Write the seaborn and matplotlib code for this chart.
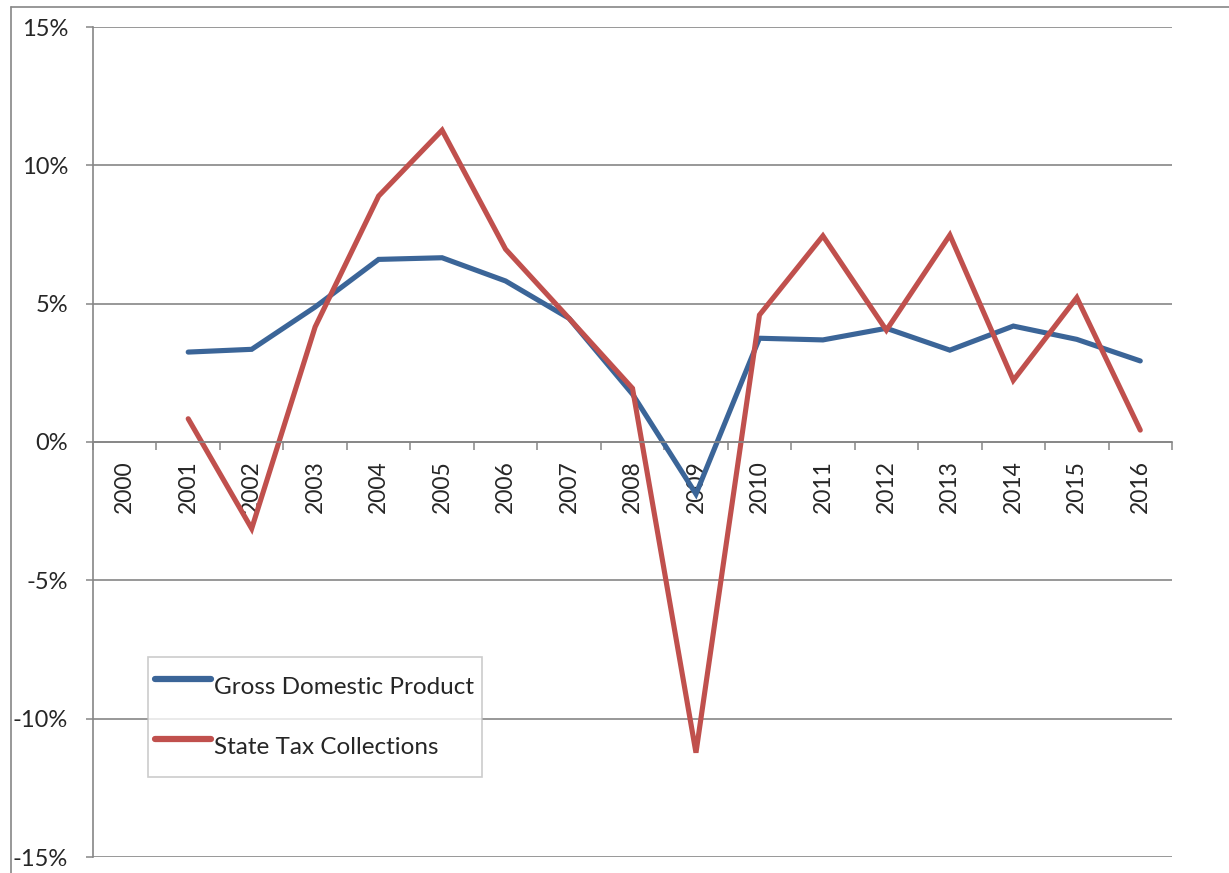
import numpy as np
import pandas as pd
import matplotlib.pyplot as plt
import seaborn as sns
from matplotlib.lines import Line2D
from matplotlib.ticker import FuncFormatter

# ---------- Data (annual % change) ----------
years = list(range(2000, 2017))
gdp = [np.nan, 3.25, 3.35, 4.88, 6.60, 6.66, 5.82, 4.47, 1.73, -1.88,
       3.75, 3.69, 4.11, 3.32, 4.19, 3.71, 2.93]
state_tax = [np.nan, 0.84, -3.13, 4.16, 8.89, 11.27, 6.97, 4.47, 1.94, -11.23,
             4.59, 7.45, 4.04, 7.48, 2.23, 5.22, 0.43]
series_names = ["Gross Domestic Product", "State Tax Collections"]
y_ticks = [-15, -10, -5, 0, 5, 10, 15]

df = pd.concat([
    pd.DataFrame({"Year": years, "Change": gdp, "Series": series_names[0]}),
    pd.DataFrame({"Year": years, "Change": state_tax, "Series": series_names[1]}),
], ignore_index=True)

# ---------- Style ----------
sns.set_style("white")
plt.rcParams["font.family"] = ["Lato", "DejaVu Sans"]
grid_col = "#868686"

fig = plt.figure(figsize=(12.29, 8.73), dpi=100)
ax = fig.add_axes([93 / 1229, 1 - 857 / 873, 1079 / 1229, 830 / 873])

sns.lineplot(
    data=df, x="Year", y="Change", hue="Series",
    palette=["#3B6598", "#C0504D"], linewidth=3.7, ax=ax,
    solid_capstyle="round", solid_joinstyle="miter",
)

ax.set_xlim(years[0] - 0.5, years[-1] + 0.5)
ax.set_ylim(y_ticks[0], y_ticks[-1])
ax.set_yticks(y_ticks)
ax.yaxis.set_major_formatter(FuncFormatter(lambda v, p: f"{v:.0f}%"))
ax.yaxis.grid(True, color=grid_col, linewidth=1.2)
ax.set_axisbelow(True)
ax.tick_params(axis="y", length=5, width=1.1, color=grid_col, pad=13,
               labelsize=17, left=True)

# category axis crosses at zero
ax.spines["bottom"].set_position(("data", 0))
ax.spines["bottom"].set_color(grid_col)
ax.spines["bottom"].set_linewidth(1.2)
ax.spines["left"].set_color(grid_col)
ax.spines["left"].set_linewidth(1.2)
ax.spines["top"].set_visible(False)
ax.spines["right"].set_visible(False)

ax.set_xticks(years)
ax.set_xticklabels([str(y) for y in years], rotation=90, fontsize=16.5)
ax.set_xticks([y - 0.5 for y in years] + [years[-1] + 0.5], minor=True)
ax.tick_params(axis="x", which="major", length=0, pad=13, bottom=True)
ax.tick_params(axis="x", which="minor", length=6, width=1.1, color=grid_col,
               direction="out", bottom=True)
for lab in ax.get_xticklabels():
    lab.set_verticalalignment("top")

ax.set_xlabel("")
ax.set_ylabel("")

# legend
handles, labels = ax.get_legend_handles_labels()
leg = ax.legend(
    handles, labels, loc="lower left", bbox_to_anchor=(0.051, 0.0964),
    fontsize=17.5, frameon=True, fancybox=False, handlelength=2.3,
    handleheight=2.5, handletextpad=0.13, labelspacing=0.6,
    borderpad=0.3, borderaxespad=0,
)
leg.get_frame().set_edgecolor("#BFBFBF")
leg.get_frame().set_linewidth(1.2)
for h in leg.get_lines():
    h.set_linewidth(4.5)
    h.set_solid_capstyle("round")

# chart-area border (top and left edges visible)
fig.add_artist(Line2D([11 / 1229, 1], [1 - 7 / 873, 1 - 7 / 873],
                      color=grid_col, linewidth=1.2, transform=fig.transFigure))
fig.add_artist(Line2D([11 / 1229, 11 / 1229], [0, 1 - 7 / 873],
                      color=grid_col, linewidth=1.2, transform=fig.transFigure))

fig.savefig("out.png", dpi=100)
